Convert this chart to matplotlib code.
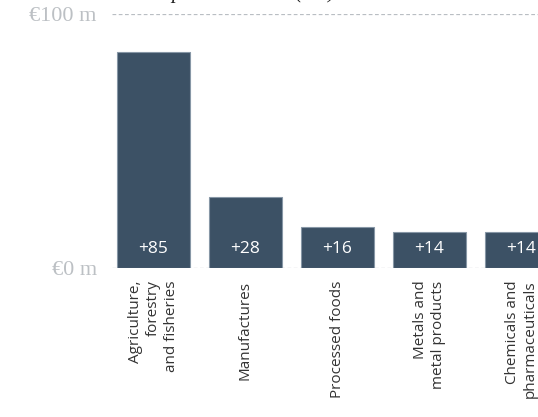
import matplotlib
matplotlib.use('Agg')
from matplotlib import pyplot as plt

# data
categories = ['Agriculture,\nforestry\nand fisheries', 'Manufactures', 'Processed foods',
              'Metals and\nmetal products', 'Chemicals and\npharmaceuticals']
values = [85, 28, 16, 14, 14]
value_labels = ['+85', '+28', '+16', '+14', '+14']
y_ticks = [0, 100]
y_tick_labels = ['€0 m', '€100 m']

bar_color = '#3c5165'
grid_color = '#b9bec3'
label_gray = '#bcc0c4'

fig = plt.figure(figsize=(5.38, 4.17), dpi=100)
W, H = 538, 417
ax = fig.add_axes([112 / W, (H - 268) / H, (538 - 112) / W, (268 - 14) / H])

x = list(range(len(categories)))
ax.bar(x, values, width=0.79, color=bar_color, edgecolor='#8797a6', linewidth=0.8, zorder=3)
for xi, lab in zip(x, value_labels):
    ax.text(xi, 7.5, lab, color='white', ha='center', va='center',
            fontsize=12.5, family='Open Sans', zorder=4)

for yv in y_ticks:
    ax.axhline(yv, color=grid_color, lw=0.9, ls=(0, (3, 2)), zorder=1)

ax.set_xlim(-0.45, 4.18)
ax.set_ylim(0, 100)
ax.set_yticks(y_ticks)
ax.set_yticklabels(y_tick_labels, family='Liberation Serif', fontsize=16, color=label_gray)
ax.set_xticks(x)
ax.set_xticklabels(categories, rotation=90, ha='center', va='top', multialignment='right',
                   family='Open Sans', fontsize=11, color='#333333', linespacing=1.3)
ax.tick_params(axis='both', length=0)
ax.tick_params(axis='x', pad=9)
ax.tick_params(axis='y', pad=11)
for s in ax.spines.values():
    s.set_visible(False)

# title, mostly cut off above the picture
fig.text(150 / W, 1.0 + 2 / H, 'Export increases (€m)', ha='left', va='baseline',
         family='Liberation Serif', style='italic', fontsize=15, color='#222222')

fig.savefig('out.png', dpi=100)
